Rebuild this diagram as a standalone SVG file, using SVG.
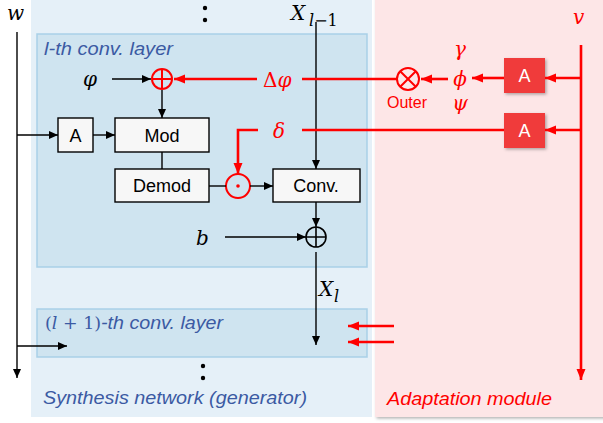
<svg xmlns="http://www.w3.org/2000/svg" width="603" height="423" viewBox="0 0 603 423">
<style>
.box{fill:#f7f7f7;stroke:#000;stroke-width:1.4}
.rbox{fill:#f03a3a;stroke:none}
.lbl{font-family:"Liberation Sans",Arial,sans-serif;font-size:18px;fill:#000;text-anchor:middle}
.wlbl{font-family:"Liberation Sans",Arial,sans-serif;font-size:18px;fill:#fff;text-anchor:middle}
.math{font-family:"DejaVu Serif","Liberation Serif",serif;font-style:italic;font-size:20px;fill:#000}
.rmath{font-family:"DejaVu Serif","Liberation Serif",serif;font-style:italic;font-size:20px;fill:#ff0000}
.up{font-style:normal}
.title{font-family:"Liberation Sans",Arial,sans-serif;font-style:italic;font-size:18px;fill:#3b5aa3}
.ln{stroke:#000;stroke-width:1.4;fill:none}
.rln{stroke:#ff0000;stroke-width:2.6;fill:none}
</style>
<defs>
<marker id="ah" markerUnits="userSpaceOnUse" markerWidth="10" markerHeight="10" refX="9" refY="5" orient="auto"><path d="M0,1 L9,5 L0,9 Z" fill="#000"/></marker>
<marker id="rah" markerUnits="userSpaceOnUse" markerWidth="12" markerHeight="10" refX="11" refY="5" orient="auto"><path d="M0,0.5 L11,5 L0,9.5 Z" fill="#ff0000"/></marker>
<filter id="sh" x="-20%" y="-20%" width="150%" height="150%"><feDropShadow dx="1.5" dy="1.5" stdDeviation="1.5" flood-color="#000" flood-opacity="0.3"/></filter>
</defs>

<!-- panels -->
<g id="synthesis-panel">
<rect x="31" y="0" width="341" height="417" fill="#e5f0f8"/>
<text class="title" x="43" y="404" textLength="264" lengthAdjust="spacingAndGlyphs">Synthesis network (generator)</text>
</g>
<g id="adaptation-panel">
<rect x="375" y="-5" width="233" height="422" fill="#fde6e7" filter="url(#sh)"/>
<text class="title" x="387" y="405" style="fill:#ff0000" textLength="165" lengthAdjust="spacingAndGlyphs">Adaptation module</text>
</g>
<g id="layer-l">
<rect x="37" y="34" width="330" height="233" fill="#cfe4f0" stroke="#a9d0e7" stroke-width="1.5"/>
<text class="title" x="44" y="55" textLength="129" lengthAdjust="spacingAndGlyphs">l-th conv. layer</text>
</g>
<g id="layer-l1">
<rect x="37" y="309" width="330" height="48" fill="#cfe4f0" stroke="#a9d0e7" stroke-width="1.5"/>
<text class="title" x="45" y="329" textLength="178" lengthAdjust="spacingAndGlyphs"><tspan style="font-family:'DejaVu Serif',serif;font-style:normal" font-size="16">(<tspan font-style="italic">l</tspan> + 1)</tspan>-th conv. layer</text>
</g>

<!-- dots -->
<g id="dots-top"><circle cx="205" cy="8" r="2.2" fill="#000"/><circle cx="205" cy="20" r="2.2" fill="#000"/></g>
<g id="dots-bottom"><circle cx="203" cy="366" r="2.2" fill="#000"/><circle cx="203" cy="378" r="2.2" fill="#000"/></g>

<!-- nodes -->
<g id="w-label"><text class="math" x="7" y="20" font-size="23">w</text></g>
<g id="phi-label"><text class="math" x="83" y="86" font-size="22">φ</text></g>
<g id="b-label"><text class="math" x="196" y="245" font-size="20">b</text></g>
<g id="xl1-label"><text class="math" x="291" y="20" font-size="23">X<tspan font-size="16" x="309" y="26">l</tspan><tspan class="up" font-size="16">−1</tspan></text></g>
<g id="xl-label"><text class="math" x="319" y="296" font-size="23">X<tspan font-size="16" x="334" y="302">l</tspan></text></g>
<g id="dphi-label"><text class="rmath" x="263" y="87" font-size="22"><tspan class="up">Δ</tspan>φ</text></g>
<g id="delta-label"><text class="rmath" x="273" y="138" font-size="22">δ</text></g>
<g id="v-label"><text class="rmath" x="573" y="24" font-size="24">v</text></g>
<g id="gpp-labels">
<text class="rmath" x="460" y="56" font-size="17" text-anchor="middle">γ</text>
<text class="rmath" x="460" y="86" font-size="20" text-anchor="middle">ϕ</text>
<text class="rmath" x="460" y="110" font-size="18" text-anchor="middle">ψ</text>
</g>

<g id="add-red">
<circle cx="162" cy="79" r="10" fill="none" stroke="#ff0000" stroke-width="2"/>
<path d="M152,79 H172 M162,69 V89" stroke="#ff0000" stroke-width="2"/>
</g>
<g id="outer">
<circle cx="408" cy="79" r="11" fill="none" stroke="#ff0000" stroke-width="2"/>
<path d="M400.2,71.2 L415.8,86.8 M415.8,71.2 L400.2,86.8" stroke="#ff0000" stroke-width="2"/>
<text x="407" y="108" font-family="Liberation Sans,Arial,sans-serif" font-size="16" fill="#ff0000" text-anchor="middle">Outer</text>
</g>
<g id="hadamard">
<circle cx="238" cy="186" r="12" fill="none" stroke="#ff0000" stroke-width="2"/>
<circle cx="238" cy="186" r="1.8" fill="#ff0000"/>
</g>
<g id="add-bias">
<circle cx="316" cy="237" r="10" fill="none" stroke="#000" stroke-width="1.6"/>
<path d="M306,237 H326 M316,227 V247" stroke="#000" stroke-width="1.6"/>
</g>

<g id="A-w"><rect class="box" x="58" y="118" width="35" height="34"/><text class="lbl" x="75.5" y="142">A</text></g>
<g id="mod"><rect class="box" x="115" y="118" width="94" height="34"/><text class="lbl" x="162" y="142" font-size="19">Mod</text></g>
<g id="demod"><rect class="box" x="115" y="169" width="94" height="33"/><text class="lbl" x="162" y="192" font-size="19">Demod</text></g>
<g id="conv"><rect class="box" x="273" y="169" width="87" height="33"/><text class="lbl" x="316" y="192" font-size="19">Conv.</text></g>
<g id="A-v1"><rect class="rbox" x="504" y="58" width="41" height="35" filter="url(#sh)"/><text class="wlbl" x="524.5" y="82">A</text></g>
<g id="A-v2"><rect class="rbox" x="504" y="113" width="41" height="35" filter="url(#sh)"/><text class="wlbl" x="524.5" y="137">A</text></g>

<!-- connectors -->
<g id="connectors">
<path class="ln" d="M17,32 V378" marker-end="url(#ah)"/>
<path class="ln" d="M17,135 H58" marker-end="url(#ah)"/>
<path class="ln" d="M17,346 H67" marker-end="url(#ah)"/>
<path class="ln" d="M93,135 H115" marker-end="url(#ah)"/>
<path class="ln" d="M112,79 H151" marker-end="url(#ah)"/>
<path class="ln" d="M162,90 V118" marker-end="url(#ah)"/>
<path class="ln" d="M162,152 V169"/>
<path class="ln" d="M209,186 H226"/>
<path class="ln" d="M250,186 H273" marker-end="url(#ah)"/>
<path class="ln" d="M316,22 V169" marker-end="url(#ah)"/>
<path class="ln" d="M316,202 V227" marker-end="url(#ah)"/>
<path class="ln" d="M225,237 H306" marker-end="url(#ah)"/>
<path class="ln" d="M316,252 V345" marker-end="url(#ah)"/>

<path class="rln" d="M581,45 V380" marker-end="url(#rah)"/>
<path class="rln" d="M581,78 H545" marker-end="url(#rah)"/>
<path class="rln" d="M581,130 H545" marker-end="url(#rah)"/>
<path class="rln" d="M504,78 H472" marker-end="url(#rah)"/>
<path class="rln" d="M448,79 H421" marker-end="url(#rah)"/>
<path class="rln" d="M397,79 H302"/>
<path class="rln" d="M257,79 H174" marker-end="url(#rah)"/>
<path class="rln" d="M504,130 H302"/>
<path class="rln" d="M258,130 H238 V174" marker-end="url(#rah)"/>
<path class="rln" d="M394,326 H348" marker-end="url(#rah)"/>
<path class="rln" d="M394,342 H348" marker-end="url(#rah)"/>
</g>
</svg>
